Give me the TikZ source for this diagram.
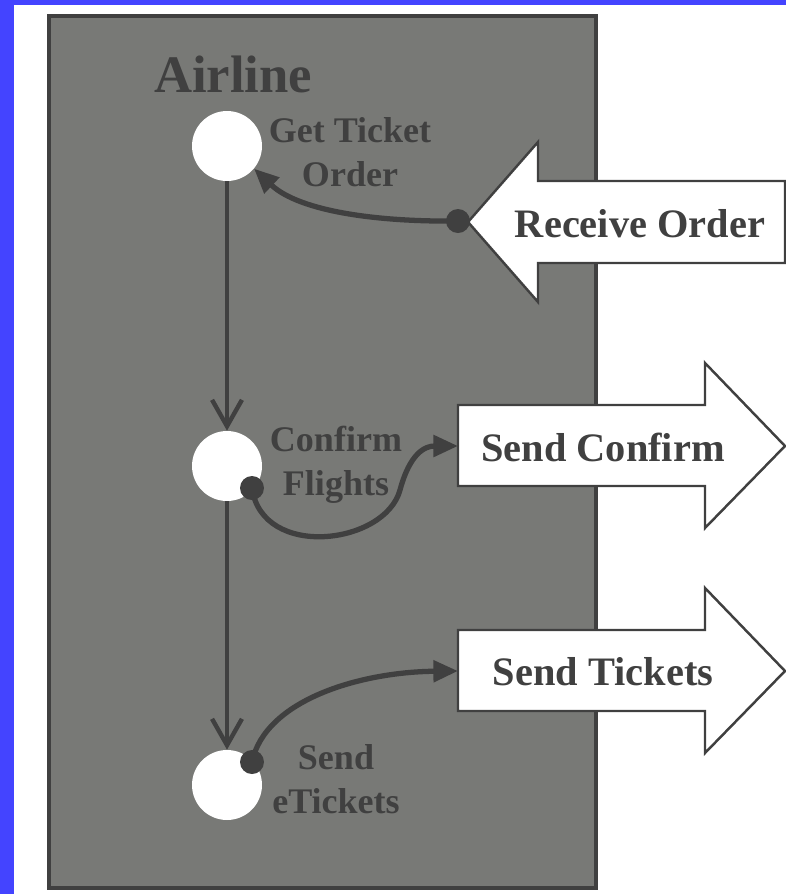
\documentclass[tikz,border=0pt]{standalone}
\usepackage{fontspec}
\setmainfont{Liberation Serif}
\usepackage{xcolor}
\definecolor{moldura}{RGB}{68,68,255}
\definecolor{raia}{RGB}{120,121,118}
\definecolor{tinta}{RGB}{64,64,64}
\usepackage{tikz}
\usetikzlibrary{arrows.meta,positioning,calc}

\begin{document}
\begin{tikzpicture}[x=0.02cm,y=-0.02cm,
            acao/.style={circle,fill=white,minimum size=1.4cm,inner sep=0pt},
            pino/.style={circle,fill=tinta,minimum size=0.48cm,inner sep=0pt},
            rotulo/.style={font=\fontsize{20.5}{25}\selectfont\bfseries,
              text=tinta,align=center},
            msg/.style={draw=tinta,fill=white,line width=1.4pt,line join=miter},
            msgtxt/.style={font=\fontsize{23}{28}\selectfont\bfseries,text=tinta},
            fluxo/.style={-{Straight Barb[length=15pt,width=17pt]},tinta,line width=2.5pt},
            curva/.style={-{Triangle[length=14pt,width=12pt]},tinta,line width=3pt}
            ]
            \useasboundingbox (0,0) rectangle (786,894);
            \fill[moldura] (0,0) rectangle (786,894);
            \fill[white] (14,5) rectangle (786,894);
            \draw[tinta,fill=raia,line width=1.8pt] (49,16) rectangle (596,888);
            \node[anchor=base west,font=\fontsize{30}{36}\selectfont\bfseries,
            text=tinta]                             (lane) at (148,92) {Airline};

            % mensagens
            \draw[msg] (785,181) -- (538,181) -- (538,142) -- (468,222)
            -- (538,302) -- (538,263) -- (785,263) -- cycle;
            \draw[msg] (458,405) -- (705,405) -- (705,363) -- (785,446)
            -- (705,528) -- (705,486) -- (458,486) -- cycle;
            \draw[msg] (458,630) -- (705,630) -- (705,588) -- (785,671)
            -- (705,753) -- (705,711) -- (458,711) -- cycle;
            \coordinate (rtip) at (468,222);
            \coordinate (ctail) at (458,446);
            \coordinate (ttail) at (458,671);
            \node[msgtxt] (recv) at (640,224) {Receive Order};
            \node[msgtxt] (sconf) at (603,447) {Send Confirm};
            \node[msgtxt] (stick) at (603,672) {Send Tickets};

            % acoes
            \node[acao] (get)  at (227,146) {};
            \node[acao] (conf) at (227,466) {};
            \node[acao] (send) at (227,785) {};
            \node[rotulo] (getl)  at (350,152) {Get Ticket\\Order};
            \node[rotulo] (confl) at (336,465) {Confirm\\Flights};
            \node[rotulo] (sendl) at (336,779) {Send\\eTickets};

            \node[pino] (p1) at (458,221) {};
            \node[pino] (p2) at (252,488) {};
            \node[pino] (p3) at (252,762) {};

            \draw[fluxo] (get) -- (conf);
            \draw[fluxo] (conf) -- (send);
            \draw[curva] (p1.center) .. controls (380,222) and (300,212) .. (get.-40);
            \draw[curva] (p2.center) .. controls (262,560) and (385,545) .. (400,490)
            .. controls (410,453) and (425,446) .. (ctail);
            \draw[curva] (p3.center) .. controls (265,700) and (360,672) .. (ttail);
          \end{tikzpicture}
\end{document}
